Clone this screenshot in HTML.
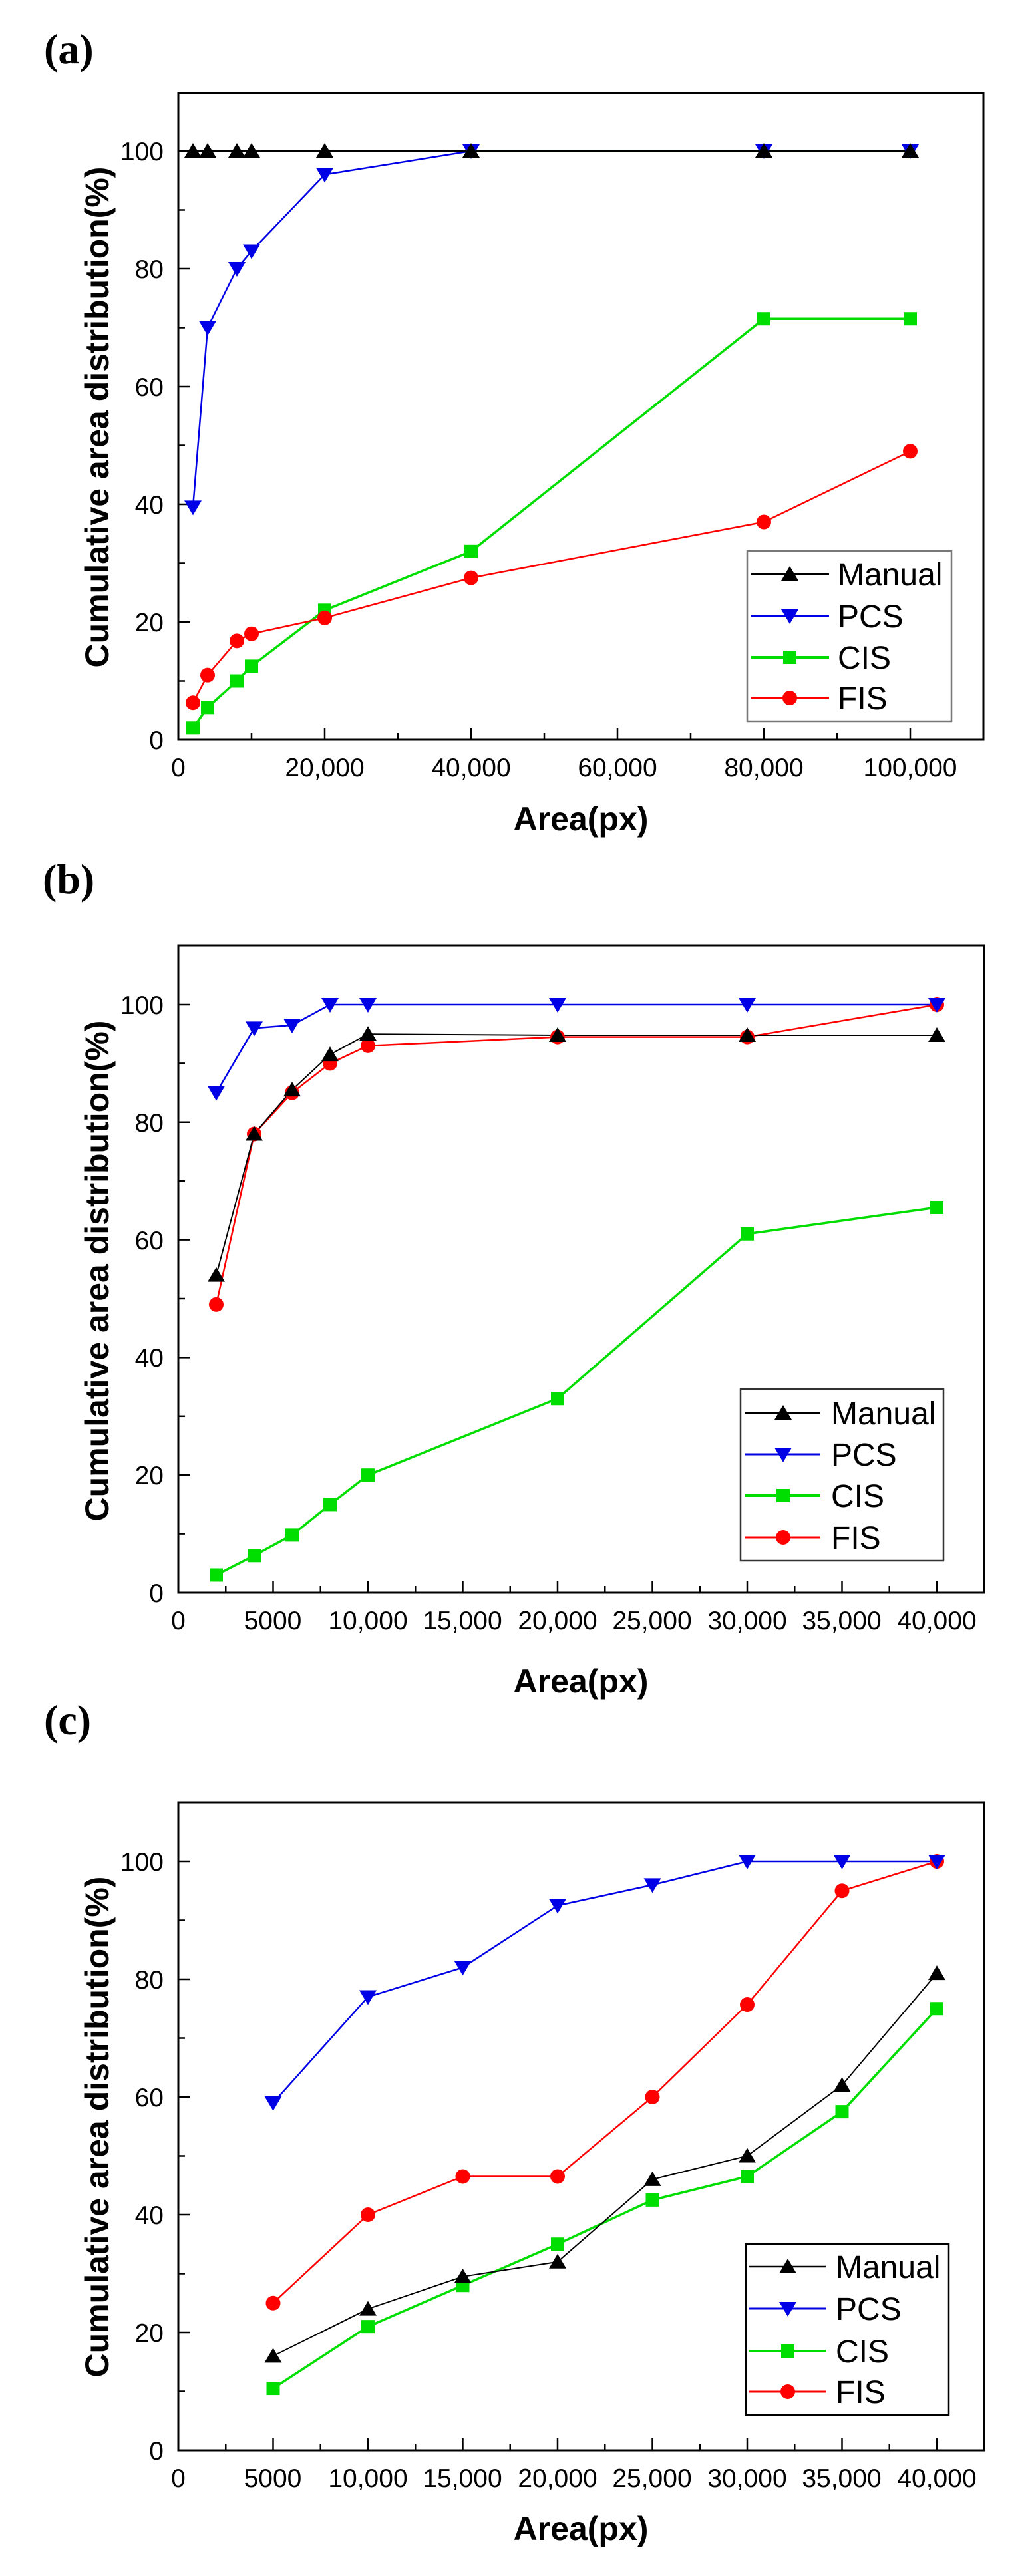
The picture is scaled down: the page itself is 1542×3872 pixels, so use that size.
<!DOCTYPE html>
<html><head><meta charset="utf-8"><style>
html,body{margin:0;padding:0;background:#fff;}
svg{display:block;}
.t{font-family:"Liberation Sans",Arial,sans-serif;font-size:39px;fill:#000;}
.ti{font-family:"Liberation Sans",Arial,sans-serif;font-size:50px;font-weight:bold;fill:#000;}
.lg{font-family:"Liberation Sans",Arial,sans-serif;font-size:48px;fill:#000;}
.pl{font-family:"Liberation Serif","Times New Roman",serif;font-size:64px;font-weight:bold;fill:#000;}
</style></head><body>
<svg id="s" width="1542" height="3872" viewBox="0 0 1542 3872" xmlns="http://www.w3.org/2000/svg">
<rect width="1542" height="3872" fill="#fff"/>
<g id="g"></g>
<text class="pl" x="66" y="95">(a)</text>
<text class="pl" x="64" y="1343">(b)</text>
<text class="pl" x="66" y="2607">(c)</text>

<g class="t" text-anchor="end">
<text x="246" y="1126">0</text><text x="246" y="949">20</text><text x="246" y="772">40</text>
<text x="246" y="595">60</text><text x="246" y="418">80</text><text x="246" y="241">100</text>
</g>
<g class="t" text-anchor="middle">
<text x="268" y="1167">0</text><text x="488" y="1167">20,000</text><text x="708" y="1167">40,000</text>
<text x="928" y="1167">60,000</text><text x="1148" y="1167">80,000</text><text x="1368" y="1167">100,000</text>
</g>
<text class="ti" x="873" y="1248" text-anchor="middle">Area(px)</text>
<text class="ti" transform="translate(163,627) rotate(-90)" text-anchor="middle">Cumulative area distribution(%)</text>
<g class="lg"><text x="1259" y="880">Manual</text><text x="1259" y="943">PCS</text><text x="1259" y="1005">CIS</text><text x="1259" y="1066">FIS</text></g>

<g class="t" text-anchor="end">
<text x="246" y="2408">0</text><text x="246" y="2231">20</text><text x="246" y="2054">40</text>
<text x="246" y="1878">60</text><text x="246" y="1701">80</text><text x="246" y="1524">100</text>
</g>
<g class="t" text-anchor="middle">
<text x="268" y="2449">0</text><text x="410" y="2449">5000</text><text x="553" y="2449">10,000</text>
<text x="695" y="2449">15,000</text><text x="838" y="2449">20,000</text><text x="980" y="2449">25,000</text>
<text x="1123" y="2449">30,000</text><text x="1265" y="2449">35,000</text><text x="1408" y="2449">40,000</text>
</g>
<text class="ti" x="873" y="2544" text-anchor="middle">Area(px)</text>
<text class="ti" transform="translate(163,1910) rotate(-90)" text-anchor="middle">Cumulative area distribution(%)</text>
<g class="lg"><text x="1249" y="2141">Manual</text><text x="1249" y="2203">PCS</text><text x="1249" y="2265">CIS</text><text x="1249" y="2328">FIS</text></g>

<g class="t" text-anchor="end">
<text x="246" y="3697">0</text><text x="246" y="3520">20</text><text x="246" y="3343">40</text>
<text x="246" y="3166">60</text><text x="246" y="2989">80</text><text x="246" y="2812">100</text>
</g>
<g class="t" text-anchor="middle">
<text x="268" y="3738">0</text><text x="410" y="3738">5000</text><text x="553" y="3738">10,000</text>
<text x="695" y="3738">15,000</text><text x="838" y="3738">20,000</text><text x="980" y="3738">25,000</text>
<text x="1123" y="3738">30,000</text><text x="1265" y="3738">35,000</text><text x="1408" y="3738">40,000</text>
</g>
<text class="ti" x="873" y="3818" text-anchor="middle">Area(px)</text>
<text class="ti" transform="translate(163,3197) rotate(-90)" text-anchor="middle">Cumulative area distribution(%)</text>
<g class="lg"><text x="1256" y="3424">Manual</text><text x="1256" y="3487">PCS</text><text x="1256" y="3551">CIS</text><text x="1256" y="3612">FIS</text></g>
</svg>
<script>
var NS="http://www.w3.org/2000/svg",G=document.getElementById("g");
function el(n,a){var e=document.createElementNS(NS,n);for(var k in a)e.setAttribute(k,a[k]);G.appendChild(e);return e;}
var C={M:"#000",P:"#0000e6",C:"#00dd00",F:"#ff0000"};
var W={M:2,P:2.5,C:3.5,F:2.5};
function mk(t,x,y){
 if(t=="M")el("polygon",{points:(x-13)+","+(y+10)+" "+(x+13)+","+(y+10)+" "+x+","+(y-12),fill:C.M});
 else if(t=="P")el("polygon",{points:(x-13)+","+(y-10)+" "+(x+13)+","+(y-10)+" "+x+","+(y+12),fill:C.P});
 else if(t=="C")el("rect",{x:x-10,y:y-10,width:20,height:20,fill:C.C});
 else el("circle",{cx:x,cy:y,r:11,fill:C.F});
}
function panel(p){
 var X=function(v){return p.x0+v*p.sx},Y=function(v){return p.y0-v*p.sy};
 el("rect",{x:p.x0,y:p.top,width:p.right-p.x0,height:p.y0-p.top,fill:"none",stroke:"#000","stroke-width":3});
 for(var v=0;v<=100;v+=10){var y=Y(v),L=v%20==0?18:10;el("line",{x1:p.x0,y1:y,x2:p.x0+L,y2:y,stroke:"#000","stroke-width":2.5});}
 for(var v=p.mt;X(v)<p.right-2;v+=p.mt){var x=X(v),L=(Math.round(v/p.mt)%2==0)?18:10;el("line",{x1:x,y1:p.y0,x2:x,y2:p.y0-L,stroke:"#000","stroke-width":2.5});}
 var order=["C","F","P","M"];
 order.forEach(function(k){var d=p.d[k],pts=p.xs.map(function(x,i){return X(x)+","+Y(d[i])}).join(" ");
  el("polyline",{points:pts,fill:"none",stroke:C[k],"stroke-width":W[k]});});
 order.forEach(function(k){p.xs.forEach(function(x,i){mk(k,X(x),Y(p.d[k][i]))});});
 var L=p.leg;el("rect",{x:L.x1,y:L.y1,width:L.x2-L.x1,height:L.y2-L.y1,fill:"#fff",stroke:p.lc,"stroke-width":2.5});
 ["M","P","C","F"].forEach(function(k,i){var y=L.ys[i];el("line",{x1:L.l1,y1:y,x2:L.l2,y2:y,stroke:C[k],"stroke-width":W[k]+0.5});mk(k,L.m,y);});
}
panel({x0:268,sx:0.011,y0:1112,sy:8.85,top:140,right:1478,mt:10000,
 xs:[2000,4000,8000,10000,20000,40000,80000,100000],
 d:{M:[100,100,100,100,100,100,100,100],P:[39.5,70,80,83,96,100,100,100],C:[2,5.5,10,12.5,22,32,71.5,71.5],F:[6.3,11,16.8,18,20.7,27.5,37,49]},
 leg:{x1:1123,y1:828,x2:1430,y2:1084,ys:[863,926,988,1049],l1:1129,l2:1246,m:1187},lc:"#777"});
panel({x0:268,sx:0.0285,y0:2394,sy:8.84,top:1421,right:1479,mt:2500,
 xs:[2000,4000,6000,8000,10000,20000,30000,40000],
 d:{M:[54,78,85.5,91.5,95,94.8,94.8,94.8],P:[85,96,96.5,100,100,100,100,100],C:[3,6.3,9.8,15,20,33,61,65.5],F:[49,78,85,90,93,94.5,94.5,100]},
 leg:{x1:1113,y1:2088,x2:1418,y2:2346,ys:[2124,2186,2248,2311],l1:1120,l2:1233,m:1177},lc:"#333"});
panel({x0:268,sx:0.0285,y0:3683,sy:8.85,top:2709,right:1479,mt:2500,
 xs:[5000,10000,15000,20000,25000,30000,35000,40000],
 d:{M:[16,24,29.5,32,46,50,62,81],P:[59,77,82,92.5,96,100,100,100],C:[10.5,21,28,35,42.5,46.5,57.5,75],F:[25,40,46.5,46.5,60,75.7,95,100]},
 leg:{x1:1121,y1:3373,x2:1426,y2:3630,ys:[3407,3470,3534,3595],l1:1126,l2:1241,m:1184},lc:"#000"});
</script>
</body></html>
